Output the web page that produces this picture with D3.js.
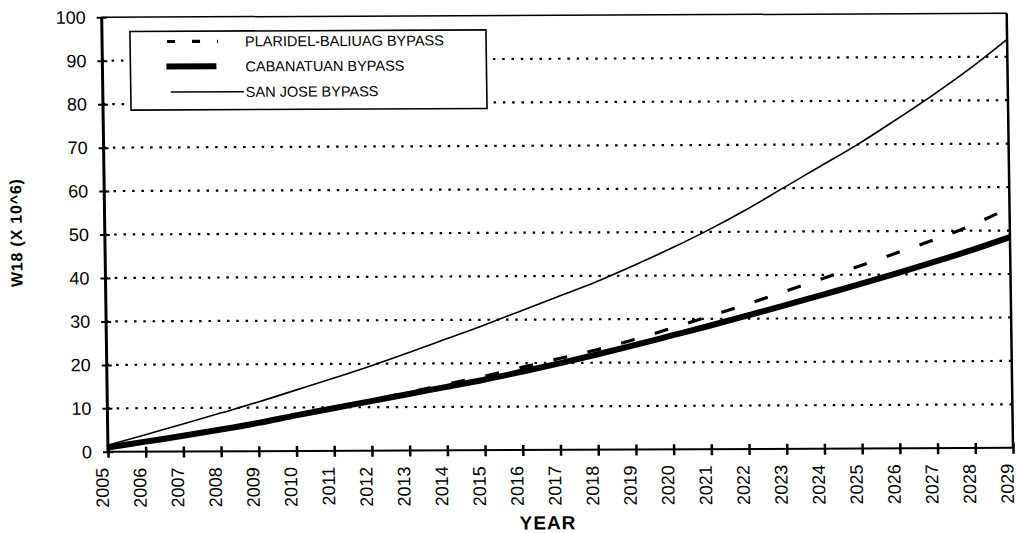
<!DOCTYPE html>
<html>
<head>
<meta charset="utf-8">
<script src="https://cdn.jsdelivr.net/npm/d3@7"></script>
<style>
  html, body { margin: 0; padding: 0; background: #fff; }
  svg { display: block; }
  text { font-family: "Liberation Sans", Arial, sans-serif; fill: #000; }
</style>
</head>
<body>
<svg id="chart" width="1017" height="533"></svg>
<script>
// ---- data ----
const years = [2005, 2006, 2007, 2008, 2009, 2010, 2011, 2012, 2013, 2014, 2015, 2016,
               2017, 2018, 2019, 2020, 2021, 2022, 2023, 2024, 2025, 2026, 2027, 2028, 2029];
const plaridelBaliuag = [1.0, 2.3, 3.7, 5.1, 6.6, 8.2, 9.9, 11.6, 13.4, 15.2, 17.0, 19.0,
                         21.0, 23.0, 25.3, 27.9, 30.6, 33.3, 36.2, 39.1, 42.0, 45.0, 48.0, 51.3, 55.3];
const cabanatuan = [1.0, 2.3, 3.6, 5.0, 6.5, 8.2, 9.8, 11.4, 13.0, 14.6, 16.2, 18.0,
                    19.9, 21.9, 24.0, 26.2, 28.4, 30.7, 33.0, 35.4, 37.8, 40.3, 42.9, 45.6, 48.5];
const sanJose = [1.5, 3.9, 6.3, 8.8, 11.3, 14.0, 16.7, 19.5, 22.5, 25.6, 28.7, 32.0,
                 35.3, 38.6, 42.3, 46.2, 50.4, 55.0, 60.0, 65.0, 70.0, 75.5, 81.2, 87.3, 94.0];
const yTicks = [0, 10, 20, 30, 40, 50, 60, 70, 80, 90, 100];
const seriesNames = ["PLARIDEL-BALIUAG BYPASS", "CABANATUAN BYPASS", "SAN JOSE BYPASS"];
const yTitle = "W18 (X 10^6)";
const xTitle = "YEAR";

// ---- layout ----
const W = 905, H = 434.5;
const svg = d3.select("#chart");
svg.append("rect").attr("width", 1017).attr("height", 533).attr("fill", "#fff");

// slight skew/rotation like the scanned original
const g = svg.append("g")
  .attr("transform", "matrix(1,-0.00442,0.0145,1,101.7,17.3)");

const x = d3.scaleLinear().domain([2005, 2029]).range([0, W]);
const y = d3.scaleLinear().domain([0, 100]).range([H, 0]);

// gridlines (dotted)
g.append("g").selectAll("line")
  .data(yTicks.filter(d => d > 0 && d < 100))
  .join("line")
  .attr("x1", 0).attr("x2", W)
  .attr("y1", d => y(d)).attr("y2", d => y(d))
  .attr("stroke", "#000").attr("stroke-width", 2.2)
  .attr("stroke-dasharray", "2.5,6.8");

// frame: top and right
g.append("line").attr("x1", 0).attr("x2", W).attr("y1", 0).attr("y2", 0)
  .attr("stroke", "#000").attr("stroke-width", 1.5);
g.append("line").attr("x1", W).attr("x2", W).attr("y1", 0).attr("y2", H)
  .attr("stroke", "#000").attr("stroke-width", 2.5);

// series lines
const line = d3.line().x((d, i) => x(years[i])).y(d => y(d)).curve(d3.curveMonotoneX);

g.append("path").datum(sanJose).attr("d", line)
  .attr("fill", "none").attr("stroke", "#000").attr("stroke-width", 1.6);
g.append("path").datum(cabanatuan).attr("d", line)
  .attr("fill", "none").attr("stroke", "#000").attr("stroke-width", 6);
g.append("path").datum(plaridelBaliuag).attr("d", line)
  .attr("fill", "none").attr("stroke", "#000").attr("stroke-width", 3.2)
  .attr("stroke-dasharray", "14,21");

// y axis
const yAxis = g.append("g").call(d3.axisLeft(y).tickValues(yTicks).tickSize(0).tickPadding(16));
yAxis.select(".domain").remove();
yAxis.selectAll(".tick text").style("font-size", "18px").style("font-family", "Liberation Sans, Arial, sans-serif");
yAxis.selectAll(".tick").append("line")
  .attr("x1", -5).attr("x2", 5).attr("stroke", "#000").attr("stroke-width", 2);
g.append("line").attr("x1", 0).attr("x2", 0).attr("y1", 0).attr("y2", H)
  .attr("stroke", "#000").attr("stroke-width", 3);

// x axis
const xAxis = g.append("g").attr("transform", `translate(0,${H})`)
  .call(d3.axisBottom(x).tickValues(years).tickFormat(d3.format("d")).tickSize(0));
xAxis.select(".domain").remove();
xAxis.selectAll(".tick text")
  .style("font-size", "18px").style("font-family", "Liberation Sans, Arial, sans-serif")
  .attr("text-anchor", "end")
  .attr("transform", "rotate(-90)")
  .attr("x", -16).attr("y", 0).attr("dy", "-0.02em");
xAxis.selectAll(".tick").append("line")
  .attr("y1", -5).attr("y2", 6).attr("stroke", "#000").attr("stroke-width", 2.5);
g.append("line").attr("x1", 0).attr("x2", W).attr("y1", H).attr("y2", H)
  .attr("stroke", "#000").attr("stroke-width", 2);

// axis titles
g.append("text")
  .attr("transform", `translate(-83,215) rotate(-90)`)
  .attr("text-anchor", "middle")
  .style("font-size", "16px").style("font-weight", "bold").style("letter-spacing", "0.8px")
  .text(yTitle);
g.append("text")
  .attr("x", 439).attr("y", 514)
  .attr("text-anchor", "middle")
  .style("font-size", "19px").style("font-weight", "bold").style("letter-spacing", "1px")
  .text(xTitle);

// legend
const lg = g.append("g");
lg.append("rect").attr("x", 28).attr("y", 14.3).attr("width", 356).attr("height", 78.6)
  .attr("fill", "#fff").attr("stroke", "#000").attr("stroke-width", 1.6);
const rows = [24.5, 49.5, 75];
const styles = [
  {w: 3.2, dash: "8,17", x1: 65, x2: 116},
  {w: 6, dash: null, x1: 64, x2: 114},
  {w: 1.4, dash: null, x1: 68, x2: 141}
];
seriesNames.forEach((name, i) => {
  const s = styles[i];
  const l = lg.append("line").attr("x1", s.x1).attr("x2", s.x2)
    .attr("y1", rows[i]).attr("y2", rows[i])
    .attr("stroke", "#000").attr("stroke-width", s.w);
  if (s.dash) l.attr("stroke-dasharray", s.dash);
  lg.append("text").attr("x", 143).attr("y", rows[i]).attr("dy", "0.36em")
    .style("font-size", "14.5px").text(name);
});
</script>
</body>
</html>
